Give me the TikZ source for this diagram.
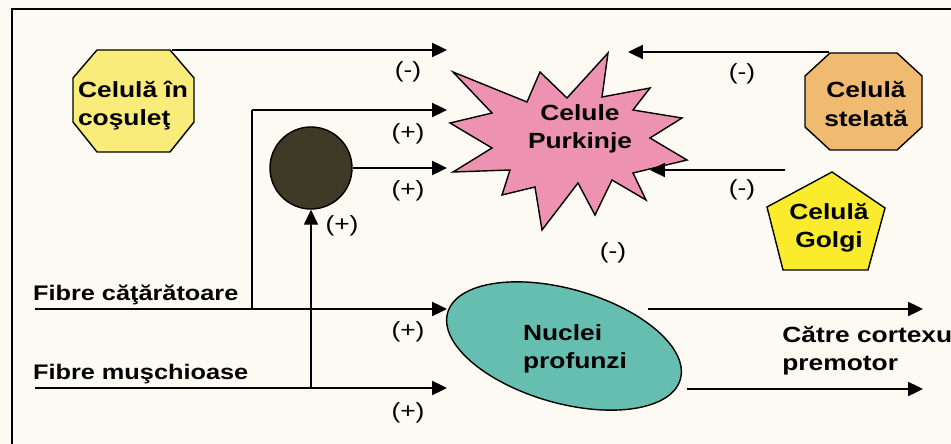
\documentclass[tikz,border=0pt]{standalone}
\usepackage{fontspec}
\setmainfont{Liberation Sans}[FakeStretch=1.2]
\usetikzlibrary{arrows.meta,shapes.geometric}
\definecolor{paper}{RGB}{252,250,243}
\definecolor{basketc}{RGB}{249,236,122}
\definecolor{stellc}{RGB}{240,186,112}
\definecolor{golgic}{RGB}{250,236,45}
\definecolor{purkc}{RGB}{238,146,178}
\definecolor{nucc}{RGB}{102,190,176}
\definecolor{granc}{RGB}{62,58,38}
\tikzset{
  arr/.style={line width=1.1pt,-{Triangle[length=8.5pt,width=8pt]}},
  thinarr/.style={line width=0.6pt,-{Triangle[length=8.5pt,width=8pt]}},
  cell/.style={font=\bfseries\fontsize{12.5}{16}\selectfont,align=left,inner sep=0pt},
  sign/.style={font=\fontsize{12.5}{14}\selectfont,inner sep=0pt},
  fibre/.style={font=\bfseries\fontsize{12}{14}\selectfont,anchor=south west,inner sep=1pt},
  shape line/.style={line width=0.8pt},
}
\begin{document}
\begin{tikzpicture}[x=0.2mm,y=-0.2mm]
\useasboundingbox (0,0) rectangle (951,444);
\fill[paper] (0,0) rectangle (951,444);
\draw[line width=0.8pt] (12,444) -- (12,9) -- (951,9);

% cells
\filldraw[fill=basketc,shape line] (97,50) -- (170,50) -- (194,78) -- (194,122) -- (170,152) -- (97,152) -- (73,122) -- (73,78) -- cycle;
\node[cell] (basket) at (133,106) {Celulă în\\coşuleţ};
\filldraw[fill=stellc,shape line] (830,53) -- (897,53) -- (922,76) -- (922,127) -- (897,150) -- (830,150) -- (805,127) -- (805,76) -- cycle;
\node[cell,align=center] (stell) at (866,104) {Celulă\\stelată};
\filldraw[fill=golgic,shape line] (832,172) -- (885,208) -- (868,270) -- (783,270) -- (767,207) -- cycle;
\node[cell,align=center] (golgi) at (829,228) {Celulă\\Golgi};
\filldraw[fill=purkc,shape line] (453,72) -- (527,102) -- (540,72) -- (567,98) -- (608,53) -- (602,97) -- (650,88) -- (633,110) -- (682,118) -- (650,138) -- (687,160) -- (633,173) -- (646,200) -- (612,180) -- (595,215) -- (578,183) -- (542,230) -- (535,187) -- (502,195) -- (510,170) -- (453,172) -- (492,148) -- (450,123) -- (492,113) -- cycle;
\node[cell,align=center] (purk) at (580,129) {Celule\\Purkinje};
\node[ellipse,fill=nucc,draw,shape line,minimum width=4.84cm,minimum height=2.28cm,inner sep=0pt,rotate=-16] (nuc) at (564,346) {};
\node[cell,align=left] (nuctxt) at (575,349) {Nuclei\\profunzi};
\node[circle,fill=granc,draw,shape line,minimum size=1.64cm,inner sep=0pt] (gran) at (311,168) {};

% fibres
\node[fibre] (cf) at (31,307) {Fibre căţărătoare};
\node[fibre] (mf) at (31,386) {Fibre muşchioase};
\node[cell,anchor=west] (cortex) at (782,351) {Către cortexul\\premotor};

% arrow ends
\coordinate (bkout) at (172,50);
\coordinate (pk1) at (447,50);
\coordinate (pk2) at (447,110);
\coordinate (pk3) at (447,168);
\coordinate (stout) at (829,52);
\coordinate (pk4) at (628,52);
\coordinate (ggout) at (785,170);
\coordinate (pk5) at (650,170);
\coordinate (cfstart) at (35,309);
\coordinate (cfbr) at (252,309);
\coordinate (nc1) at (447,309);
\coordinate (mfstart) at (35,388);
\coordinate (mfbr) at (311,388);
\coordinate (nc2) at (447,388);
\coordinate (outa) at (648,309);
\coordinate (outb) at (923,309);
\coordinate (outc) at (687,389);
\coordinate (outd) at (923,389);

% connectors
\draw[arr] (bkout) -- (pk1);
\draw[line width=0.6pt] (cfbr) -- (cfbr |- pk2);
\draw[arr] (cfbr |- pk2) -- (pk2);
\draw[arr] (gran) -- (pk3);
\draw[arr] (stout) -- (pk4);
\draw[arr] (ggout) -- (pk5);
\draw[arr] (cfstart) -- (nc1);
\draw[arr] (mfstart) -- (nc2);
\draw[thinarr] (mfbr) -- (gran);
\draw[arr] (outa) -- (outb);
\draw[arr] (outc) -- (outd);

% signs
\node[sign] (s1) at (408,72) {(-)};
\node[sign] (s2) at (408,134) {(+)};
\node[sign] (s3) at (408,191) {(+)};
\node[sign] (s4) at (342,226) {(+)};
\node[sign] (s5) at (408,332) {(+)};
\node[sign] (s6) at (408,413) {(+)};
\node[sign] (s7) at (742,74) {(-)};
\node[sign] (s8) at (742,190) {(-)};
\node[sign] (s9) at (613,253) {(-)};
\end{tikzpicture}
\end{document}
